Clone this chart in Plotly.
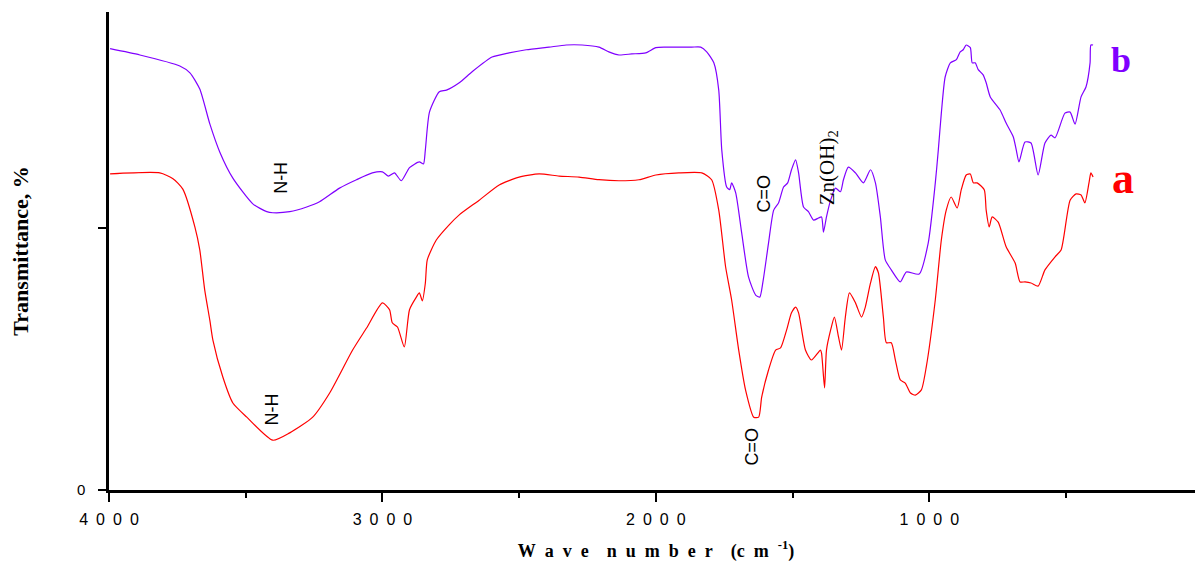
import plotly.graph_objects as go

# ---- data: curve b (purple) ----
wn_b = [3996, 3887, 3741, 3704, 3668, 3631, 3595, 3547, 3474, 3423, 3401, 3339, 3277, 3230,
        3157, 3095, 3037, 3000, 2978, 2956, 2931, 2901, 2865, 2850, 2843, 2828, 2792, 2766,
        2719, 2672, 2599, 2537, 2474, 2391, 2328, 2270, 2208, 2172, 2135, 2088, 2037, 2000,
        1964, 1869, 1836, 1814, 1788, 1770, 1759, 1741, 1730, 1723, 1708, 1686, 1661, 1635,
        1620, 1609, 1588, 1569, 1551, 1533, 1518, 1504, 1489, 1478, 1460, 1442, 1423, 1405,
        1394, 1387, 1376, 1361, 1343, 1325, 1314, 1296, 1270, 1241, 1215, 1197, 1179, 1161,
        1139, 1106, 1084, 1037, 1004, 978, 967, 956, 942, 923, 901, 887, 876, 865, 850, 843,
        832, 821, 803, 792, 777, 741, 719, 693, 682, 672, 650, 628, 602, 577, 555, 540, 504,
        485, 467, 445, 427, 412, 409, 401]
t_b = [84.2, 83.0, 80.9, 79.6, 76.5, 69.8, 64.5, 59.5, 54.6, 53.1, 52.9, 53.1, 54.0, 55.0,
       57.6, 59.2, 60.5, 60.7, 59.9, 60.5, 59.0, 61.5, 62.6, 62.2, 64.9, 72.1, 76.0, 76.3,
       77.7, 79.8, 82.6, 83.4, 84.0, 84.5, 84.9, 84.9, 84.5, 83.6, 83.0, 83.2, 83.4, 84.4,
       84.5, 84.5, 84.5, 83.6, 81.5, 76.3, 64.9, 57.8, 57.3, 58.6, 56.7, 49.0, 40.6, 37.2,
       36.8, 39.5, 47.1, 53.4, 54.8, 57.8, 58.6, 61.1, 63.0, 60.5, 54.0, 53.1, 51.5, 51.9,
       52.1, 49.2, 52.1, 55.3, 57.6, 56.9, 59.2, 61.6, 60.5, 58.6, 61.1, 58.6, 52.1, 43.9,
       42.0, 39.7, 41.6, 41.2, 47.1, 58.6, 64.9, 71.9, 78.8, 81.5, 82.1, 83.6, 84.0, 84.9, 84.4, 81.5,
       81.5, 80.2, 79.2, 77.7, 75.0, 72.5, 70.0, 67.4, 64.9, 62.6, 66.4, 66.2, 60.1, 66.2, 67.7, 67.2, 71.9,
       72.1, 69.8, 75.0, 76.9, 81.5, 84.9, 84.9]

# ---- data: curve a (red) ----
wn_a = [3996, 3814, 3766, 3730, 3686, 3668, 3650, 3631, 3620, 3584, 3547, 3496, 3401, 3339,
        3255, 3193, 3109, 3058, 3000, 2974, 2964, 2945, 2920, 2901, 2876, 2865, 2854, 2843,
        2836, 2803, 2756, 2719, 2646, 2573, 2500, 2427, 2354, 2281, 2208, 2135, 2062, 2000,
        1916, 1832, 1796, 1770, 1745, 1723, 1697, 1672, 1642, 1624, 1613, 1588, 1562, 1544,
        1522, 1504, 1489, 1478, 1453, 1431, 1398, 1394, 1383, 1376, 1361, 1347, 1332, 1321,
        1307, 1292, 1270, 1248, 1234, 1215, 1197, 1186, 1168, 1157, 1139, 1124, 1106, 1088,
        1069, 1051, 1029, 1011, 978, 956, 938, 920, 898, 883, 865, 850, 839, 825, 799, 792,
        781, 770, 748, 719, 686, 668, 650, 628, 602, 577, 540, 518, 485, 463, 445, 431, 416,
        409, 401]
t_a = [60.3, 60.5, 59.4, 57.4, 50.2, 45.8, 38.2, 32.3, 28.6, 21.6, 16.6, 13.9, 9.5, 10.9,
       13.9, 18.5, 26.7, 30.9, 35.7, 34.4, 31.9, 31.1, 27.3, 34.4, 36.8, 37.6, 36.1, 39.5,
       43.9, 47.7, 50.6, 52.5, 55.3, 58.2, 59.7, 60.3, 59.9, 59.7, 59.2, 59.0, 59.2, 60.1,
       60.5, 60.5, 59.2, 53.4, 42.6, 36.3, 26.7, 19.1, 13.9, 13.9, 17.7, 22.9, 26.7, 27.1,
       30.5, 33.8, 34.9, 33.8, 26.7, 24.8, 26.7, 26.1, 19.5, 26.7, 30.5, 33.0, 29.2, 26.7,
       33.0, 37.6, 35.7, 33.0, 34.9, 39.5, 42.6, 41.4, 33.0, 28.1, 28.1, 24.8, 21.0, 20.4,
       18.5, 18.1, 19.1, 23.5, 36.3, 47.7, 53.4, 55.9, 53.8, 57.3, 60.1, 60.3, 58.6, 58.6, 57.3, 53.4,
       50.2, 52.1, 51.1, 46.4, 43.3, 39.7, 39.7, 39.5, 38.9, 42.0, 44.5, 45.8, 55.3, 56.5, 56.3, 54.8, 58.6,
       60.5, 59.7]

SP = "\u2002"
x_ticks = [4000, 3000, 2000, 1000, 0]
x_tick_labels = [SP.join("4000"), SP.join("3000"), SP.join("2000"), SP.join("1000"), "0"]
y_ticks = [0, 50]
y_tick_labels = ["0", " "]

PURPLE = "#8000FF"
RED = "#FF0000"

fig = go.Figure()
fig.add_trace(go.Scatter(x=wn_b, y=t_b, mode="lines",
                         line=dict(color=PURPLE, width=1.2, shape="spline", smoothing=0.6),
                         showlegend=False))
fig.add_trace(go.Scatter(x=wn_a, y=t_a, mode="lines",
                         line=dict(color=RED, width=1.2, shape="spline", smoothing=0.6),
                         showlegend=False))

sans = "Liberation Sans, Arial, sans-serif"
serif = "Liberation Serif, Times New Roman, serif"

def vlabel(x, y, text, font=sans, size=18):
    fig.add_annotation(x=x, y=y, text=text, showarrow=False, textangle=-90,
                       font=dict(family=font, size=size, color="black"))

vlabel(3372, 59.5, "N-H")
vlabel(3405, 15.3, "N-H")
vlabel(1606, 56.5, "C=O")
vlabel(1650, 8.2, "C=O")
vlabel(1372, 61.5, "Zn(OH)<sub>2</sub>", font=serif, size=21)

fig.add_annotation(x=300, y=82, text="<b>b</b>", showarrow=False,
                   font=dict(family=serif, size=36, color=PURPLE))
fig.add_annotation(x=290, y=59.5, text="<b>a</b>", showarrow=False,
                   font=dict(family=serif, size=44, color=RED))

xtitle = "<b>" + SP.join("Wave") + SP + SP + SP.join("number") + SP + SP + "(c" + SP + "m" + SP + "<sup>-1</sup>)</b>"

# the page body has an 8 px margin, so the figure is sized/offset to fit the window
fig.update_layout(
    width=1195, height=554,
    margin=dict(l=101, r=0, t=4, b=72, autoexpand=False),
    paper_bgcolor="white", plot_bgcolor="white",
    xaxis=dict(range=[4000, -1], tickvals=x_ticks, ticktext=x_tick_labels, automargin=False,
               ticks="outside", ticklen=9, tickwidth=2, tickcolor="black",
               showline=True, linecolor="black", linewidth=2.5, showgrid=False, zeroline=False,
               tickfont=dict(family=sans, size=16, color="black"), ticklabelstandoff=4,
               ticklabeloverflow="allow",
               minor=dict(tickvals=[3500, 2500, 1500, 500], ticks="outside", ticklen=5,
                          tickwidth=2, tickcolor="black"),
               title=dict(text=xtitle,
                          font=dict(family=serif, size=18, color="black"), standoff=27)),
    yaxis=dict(range=[0, 91.2], tickvals=y_ticks, ticktext=y_tick_labels, automargin=False,
               ticks="outside", ticklen=8, tickwidth=2, tickcolor="black",
               showline=True, linecolor="black", linewidth=2.5, showgrid=False, zeroline=False,
               tickfont=dict(family=sans, size=15, color="black"), ticklabelstandoff=10,
               title=dict(text="<b>Transmittance, %</b>",
                          font=dict(family=serif, size=22, color="black"), standoff=46)),
)

fig.write_html("out.html")
